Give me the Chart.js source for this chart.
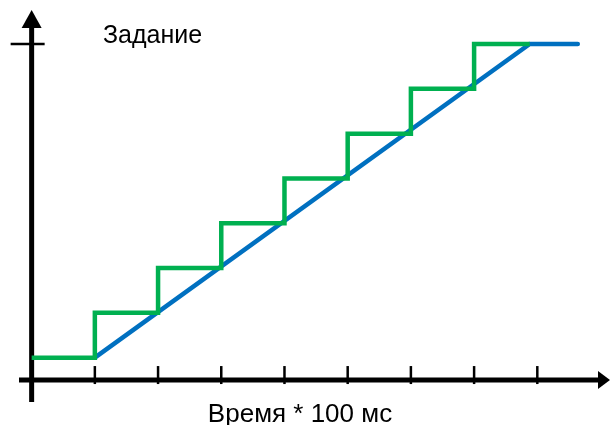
<!DOCTYPE html>
<html>
<head>
<meta charset="utf-8">
<script src="https://cdn.jsdelivr.net/npm/chart.js@4"></script>
<style>
  html, body { margin: 0; padding: 0; background: #fff; }
  #wrap { width: 610px; height: 425px; }
</style>
</head>
<body>
<div id="wrap"><canvas id="chart" width="610" height="425"></canvas></div>
<script>
// setpoint (green staircase) and ramp (blue)
const stepX = [0, 1, 2, 3, 4, 5, 6, 7, 7.88];
const stepY = [0.5, 1.5, 2.5, 3.5, 4.5, 5.5, 6.5, 7.5, 7.5];
const rampX = [1, 7.88, 8.64];
const rampY = [0.5, 7.5, 7.5];
const xTicks = [1, 2, 3, 4, 5, 6, 7, 8];
const yTicks = [7.5];
const yLabel = 'Задание';
const xLabel = 'Время * 100 мс';

const toPoints = (xs, ys) => xs.map((x, i) => ({ x: x, y: ys[i] }));

// hand-drawn looking axes with arrows, ticks and captions
const axesPlugin = {
    id: 'axesPlugin',
    beforeDatasetsDraw(chart) {
        const ctx = chart.ctx;
        const xs = chart.scales.x, ys = chart.scales.y;
        const x0 = xs.getPixelForValue(0);
        const y0 = ys.getPixelForValue(0);
        const left = xs.getPixelForValue(xs.min);
        const right = xs.getPixelForValue(xs.max);
        const top = ys.getPixelForValue(ys.max);
        const bottom = ys.getPixelForValue(ys.min);

        ctx.save();
        ctx.strokeStyle = '#000';
        ctx.fillStyle = '#000';

        // y axis
        ctx.lineWidth = 5;
        ctx.beginPath();
        ctx.moveTo(x0, bottom);
        ctx.lineTo(x0, top + 16);
        ctx.stroke();
        ctx.beginPath();
        ctx.moveTo(x0, top);
        ctx.lineTo(x0 - 10, top + 18);
        ctx.lineTo(x0 + 10, top + 18);
        ctx.closePath();
        ctx.fill();

        // x axis
        ctx.beginPath();
        ctx.moveTo(left, y0);
        ctx.lineTo(right - 10, y0);
        ctx.stroke();
        ctx.beginPath();
        ctx.moveTo(right, y0);
        ctx.lineTo(right - 12, y0 - 9);
        ctx.lineTo(right - 12, y0 + 9);
        ctx.closePath();
        ctx.fill();

        // tick marks
        ctx.lineWidth = 2.5;
        xTicks.forEach(t => {
            const px = xs.getPixelForValue(t);
            ctx.beginPath();
            ctx.moveTo(px, y0 - 14);
            ctx.lineTo(px, y0 + 4);
            ctx.stroke();
        });
        yTicks.forEach(t => {
            const py = ys.getPixelForValue(t);
            ctx.beginPath();
            ctx.moveTo(x0 - 21, py);
            ctx.lineTo(x0 + 13, py);
            ctx.stroke();
        });

        // captions
        ctx.textBaseline = 'alphabetic';
        ctx.font = '25px "Liberation Sans", Arial, sans-serif';
        ctx.textAlign = 'left';
        ctx.fillText(yLabel, 103, 43);
        ctx.font = '26px "Liberation Sans", Arial, sans-serif';
        ctx.textAlign = 'center';
        ctx.fillText(xLabel, 300, 422);
        ctx.restore();
    }
};

new Chart(document.getElementById('chart'), {
    type: 'line',
    data: {
        datasets: [
            {
                label: 'Задание',
                data: toPoints(stepX, stepY),
                borderColor: '#00B050',
                borderWidth: 4.5,
                stepped: 'before',
                pointRadius: 0,
                borderJoinStyle: 'miter',
                fill: false
            },
            {
                label: 'Рампа',
                data: toPoints(rampX, rampY),
                borderColor: '#0070C0',
                borderWidth: 4.5,
                tension: 0,
                pointRadius: 0,
                borderCapStyle: 'round',
                fill: false
            }
        ]
    },
    options: {
        responsive: false,
        devicePixelRatio: 1,
        animation: false,
        layout: { padding: { left: 19, right: 0, top: 10, bottom: 23 } },
        scales: {
            x: { type: 'linear', min: -0.2, max: 9.15, display: false },
            y: { type: 'linear', min: -0.49, max: 8.26, display: false }
        },
        plugins: {
            legend: { display: false },
            tooltip: { enabled: false }
        }
    },
    plugins: [axesPlugin]
});
</script>
</body>
</html>
